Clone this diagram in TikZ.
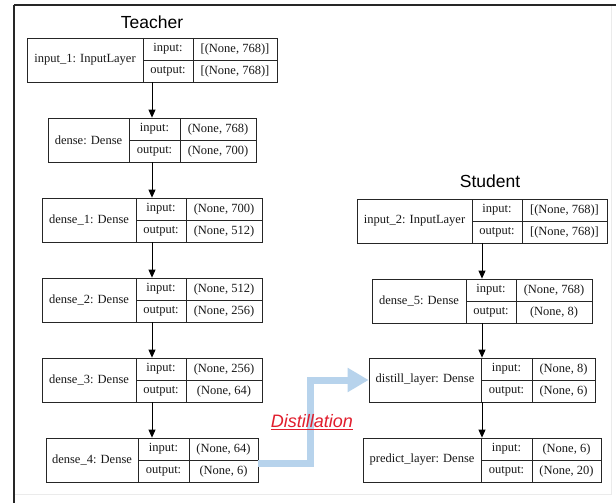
\documentclass[tikz,border=0pt]{standalone}
\usepackage{fontspec}
\setmainfont{Liberation Serif}
\newfontfamily\titlefont{Liberation Sans}
\usetikzlibrary{arrows.meta}
\definecolor{distblue}{RGB}{183,211,236}
\definecolor{distred}{RGB}{225,30,45}
% #1 id, #2 x-left, #3 first divider, #4 second divider, #5 x-right, #6 y-top, #7 name, #8 input value, #9 output value
\newcommand\mklayer[9]{%
  \node[layerframe, minimum width={(#5-#2)*1pt}, minimum height=44pt] (#1) at ({(#2+#5)/2},{#6+22}) {};
  \draw[boxline] (#3,#6) -- (#3,#6+44);
  \draw[boxline] (#4,#6) -- (#4,#6+44);
  \draw[boxline] (#3,#6+22) -- (#5,#6+22);
  \node[cell] (#1-name) at ({(#2+#3)/2},{#6+22}) {#7};
  \node[cell] (#1-il) at ({(#3+#4)/2},{#6+11}) {input:};
  \node[cell] (#1-ol) at ({(#3+#4)/2},{#6+33}) {output:};
  \node[cell] (#1-iv) at ({(#4+#5)/2},{#6+11}) {#8};
  \node[cell] (#1-ov) at ({(#4+#5)/2},{#6+33}) {#9};
}
\begin{document}
\begin{tikzpicture}[x=1pt,y=-1pt,
  layerframe/.style={draw=black!85, line width=0.8pt, inner sep=0pt, fill=white},
  boxline/.style={draw=black!85, line width=0.8pt},
  cell/.style={inner sep=0pt, font=\fontsize{12.5}{14}\selectfont, text=black!90},
  flow/.style={draw=black, line width=0.8pt, -{Triangle[length=8pt,width=7pt]}},
  titletext/.style={font=\titlefont\fontsize{17.5}{20}\selectfont, inner sep=0pt},
  distill/.style={draw=distblue, line width=7pt, line join=miter, -{Triangle[length=21pt,width=23pt]}},
  distlabel/.style={font=\titlefont\itshape\fontsize{18}{20}\selectfont, text=distred, inner sep=0pt}]
\useasboundingbox (0,0) rectangle (616,503);
\fill[white] (0,0) rectangle (616,503);
% frame
\draw[black!8, line width=0.8pt] (611,6) -- (611,494) -- (14,494);
\draw[black!85, line width=2pt] (14,5.5) -- (616,5.5);
\draw[black!85, line width=1.4pt] (14,5) -- (14,503);
% titles
\node[titletext] (teacher) at (152,22) {Teacher};
\node[titletext] (student) at (490,181) {Student};
% teacher
\mklayer{in1}{27}{143}{193}{277}{38}{input\_1: InputLayer}{[(None, 768)]}{[(None, 768)]}
\mklayer{d0}{48}{129}{180}{256}{118}{dense: Dense}{(None, 768)}{(None, 700)}
\mklayer{d1}{42}{136}{186}{262}{198}{dense\_1: Dense}{(None, 700)}{(None, 512)}
\mklayer{d2}{42}{136}{186}{262}{278}{dense\_2: Dense}{(None, 512)}{(None, 256)}
\mklayer{d3}{42}{136}{186}{262}{358}{dense\_3: Dense}{(None, 256)}{(None, 64)}
\mklayer{d4}{46}{138}{189}{258}{438}{dense\_4: Dense}{(None, 64)}{(None, 6)}
% student
\mklayer{in2}{357}{472}{522}{607}{199}{input\_2: InputLayer}{[(None, 768)]}{[(None, 768)]}
\mklayer{d5}{372}{466}{516}{592}{279}{dense\_5: Dense}{(None, 768)}{(None, 8)}
\mklayer{dl}{369}{481}{532}{595}{358}{distill\_layer: Dense}{(None, 8)}{(None, 6)}
\mklayer{pl}{363}{481}{532}{601}{438}{predict\_layer: Dense}{(None, 6)}{(None, 20)}
% flows
\draw[flow] (in1.south) -- (in1.south |- d0.north);
\draw[flow] (d0.south) -- (d0.south |- d1.north);
\draw[flow] (d1.south) -- (d1.south |- d2.north);
\draw[flow] (d2.south) -- (d2.south |- d3.north);
\draw[flow] (d3.south) -- (d3.south |- d4.north);
\draw[flow] (in2.south) -- (in2.south |- d5.north);
\draw[flow] (d5.south) -- (d5.south |- dl.north);
\draw[flow] (dl.south) -- (dl.south |- pl.north);
% distillation
\coordinate (bend) at (310,420);
\draw[distill] ([yshift=-3pt]d4.east) -| (bend) |- (dl.west);
\node[distlabel] (distname) at (312,422) {\underline{Distillation}};
\end{tikzpicture}
\end{document}
